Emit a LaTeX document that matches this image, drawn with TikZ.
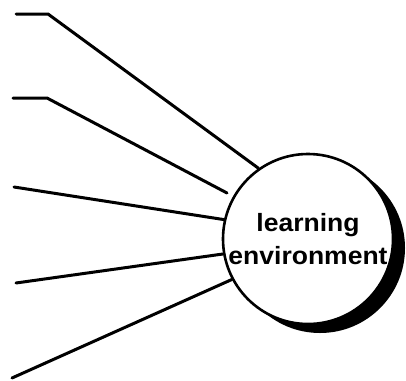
\documentclass[tikz,border=0pt]{standalone}
\usepackage{fontspec}
\setmainfont{Liberation Sans}
\newfontfamily\bubblefont[FakeStretch=1.06,BoldFont={Liberation Sans Bold}]{Liberation Sans}
\usetikzlibrary{shadows}
\begin{document}
\begin{tikzpicture}[x=1pt,y=-1pt,
        spoke/.style={line width=3pt,line cap=round},
        bubble/.style={circle,draw,line width=2.6pt,fill=white,minimum size=170pt,inner sep=0pt,
            align=center,font=\bubblefont\bfseries\fontsize{25}{33.4}\selectfont,
            drop shadow={shadow xshift=12pt,shadow yshift=-9pt,opacity=1,fill=black}}]
        \useasboundingbox(0,0)rectangle(406,380);
        \node[bubble](le)at(308,239){learning\\environment};
        \coordinate(a1)at(16,14);
        \coordinate(a2)at(13,98);
        \coordinate(a3)at(14,187);
        \coordinate(a4)at(16,283);
        \coordinate(a5)at(12,378);
        \coordinate(e2)at(227,193);
        \draw[spoke](a1)--++(32,0)--(le.125);
        \draw[spoke](a2)--++(34,0)--(e2);
        \draw[spoke](a3)--(le.167);
        \draw[spoke](a4)--(le.190);
        \draw[spoke](a5)--(le.208);
    \end{tikzpicture}
\end{document}
